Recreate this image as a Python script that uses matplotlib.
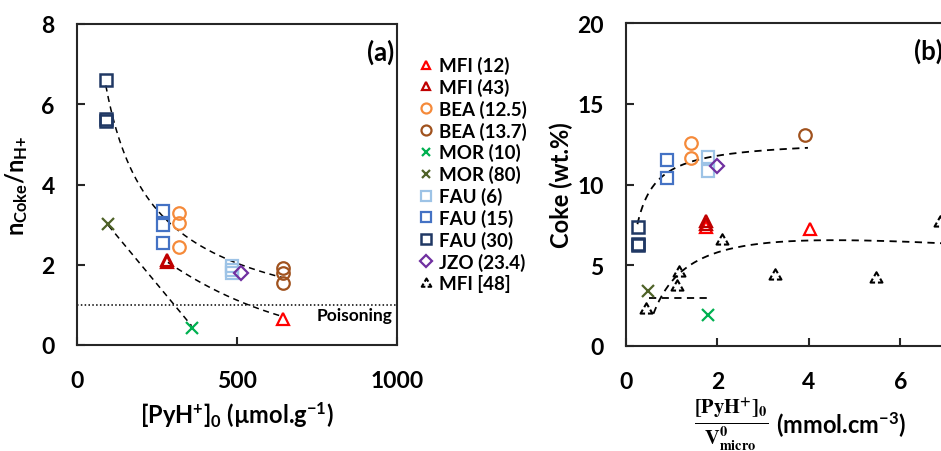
import numpy as np
import matplotlib
matplotlib.use("Agg")
import matplotlib.pyplot as plt
from matplotlib.lines import Line2D
from matplotlib.path import Path

plt.rcParams['font.family'] = ['Lato', 'DejaVu Sans']
plt.rcParams['font.weight'] = 'bold'
plt.rcParams['mathtext.fontset'] = 'custom'
plt.rcParams['mathtext.rm'] = 'Lato:bold'
plt.rcParams['mathtext.it'] = 'Lato:bold'
plt.rcParams['mathtext.bf'] = 'Lato:bold'

# ---------------- data: panel (a) -----------------
a_mfi12_x = [643]; a_mfi12_y = [0.65]
a_mfi43_x = [281, 281]; a_mfi43_y = [2.07, 2.13]
a_bea125_x = [318, 318, 318]; a_bea125_y = [3.30, 3.04, 2.43]
a_bea137_x = [643, 643, 643]; a_bea137_y = [1.93, 1.80, 1.55]
a_mor10_x = [360]; a_mor10_y = [0.42]
a_mor80_x = [96]; a_mor80_y = [3.02]
a_fau6_x = [483, 483, 483]; a_fau6_y = [1.97, 1.88, 1.80]
a_fau15_x = [270, 270, 270]; a_fau15_y = [3.33, 3.00, 2.55]
a_fau30_x = [90, 90, 90]; a_fau30_y = [6.60, 5.62, 5.58]
a_jzo_x = [513]; a_jzo_y = [1.79]

# trend-line anchor points (panel a)
a_trend1_x = [90, 270, 483, 640]; a_trend1_y = [6.45, 3.25, 2.02, 1.72]
a_trend2_x = [284, 457, 634]; a_trend2_y = [2.06, 1.27, 0.73]
a_trend3_x = [98, 358]; a_trend3_y = [2.98, 0.48]
poison_level = 1.0

# ---------------- data: panel (b) -----------------
b_mfi12_x = [1.75, 4.02]; b_mfi12_y = [7.38, 7.27]
b_mfi43_x = [1.75, 1.75]; b_mfi43_y = [7.72, 7.55]
b_bea125_x = [1.43, 1.43]; b_bea125_y = [12.57, 11.62]
b_bea137_x = [3.91]; b_bea137_y = [13.08]
b_mor10_x = [1.80]; b_mor10_y = [1.92]
b_mor80_x = [0.49]; b_mor80_y = [3.42]
b_fau6_x = [1.80, 1.80]; b_fau6_y = [11.70, 10.82]
b_fau15_x = [0.89, 0.89]; b_fau15_y = [11.54, 10.38]
b_fau30_x = [0.26, 0.26, 0.26]; b_fau30_y = [7.39, 6.32, 6.28]
b_jzo_x = [1.98]; b_jzo_y = [11.16]
b_mfi48_x = [0.44, 1.11, 1.16, 2.11, 3.25, 5.47, 6.86]
b_mfi48_y = [2.29, 3.73, 4.60, 6.58, 4.40, 4.19, 7.66]

b_trend1_x = [0.25, 0.81, 1.80, 3.98]; b_trend1_y = [7.55, 10.44, 11.85, 12.20]
b_trend2_x = [0.6, 1.1, 2.05, 4.02, 6.95]; b_trend2_y = [2.05, 4.15, 6.00, 6.48, 6.36]
b_hline_x = [0.5, 1.85]; b_hline_y = 3.0

labels = ['MFI (12)', 'MFI (43)', 'BEA (12.5)', 'BEA (13.7)', 'MOR (10)',
          'MOR (80)', 'FAU (6)', 'FAU (15)', 'FAU (30)', 'JZO (23.4)', 'MFI [48]']

# ---------------- styles -----------------
c_mfi12 = '#FF0000'; c_mfi43 = '#C00000'
c_bea125 = '#F58A3A'; c_bea137 = '#A0521E'
c_mor10 = '#00B050'; c_mor80 = '#4F6228'
c_fau6 = '#9DC3E6'; c_fau15 = '#4472C4'; c_fau30 = '#203864'
c_jzo = '#7030A0'

# dashed-outline triangle marker
tri = np.array([[0, 1.0], [-0.95, -0.65], [0.95, -0.65]])
verts, codes = [], []
for i in range(3):
    p = tri[i]; prev = tri[i - 1]; nxt = tri[(i + 1) % 3]
    verts += [p + 0.38 * (prev - p), p, p + 0.38 * (nxt - p)]
    codes += [Path.MOVETO, Path.LINETO, Path.LINETO]
dash_tri = Path(verts, codes)

series_style = [
    dict(marker='^', color=c_mfi12, ms=8, mew=1.6),
    dict(marker='^', color=c_mfi43, ms=8, mew=1.6),
    dict(marker='o', color=c_bea125, ms=9, mew=1.6),
    dict(marker='o', color=c_bea137, ms=9, mew=1.6),
    dict(marker='x', color=c_mor10, ms=8, mew=1.6),
    dict(marker='x', color=c_mor80, ms=8, mew=1.6),
    dict(marker='s', color=c_fau6, ms=8.5, mew=1.6),
    dict(marker='s', color=c_fau15, ms=8.5, mew=1.6),
    dict(marker='s', color=c_fau30, ms=8.5, mew=1.8),
    dict(marker='D', color=c_jzo, ms=7.5, mew=1.6),
    dict(marker=dash_tri, color='black', ms=9, mew=1.5),
]

def plot_series(ax, x, y, st):
    ax.plot(x, y, linestyle='none', marker=st['marker'], markersize=st['ms'],
            markeredgewidth=st['mew'], markeredgecolor=st['color'],
            markerfacecolor='none', zorder=3)

fig = plt.figure(figsize=(9.41, 4.52), dpi=100)
axa = fig.add_axes([77 / 941, 106 / 452, 320 / 941, 321 / 452])
axb = fig.add_axes([626 / 941, 105 / 452, 320 / 941, 323 / 452])

for ax in (axa, axb):
    for s in ax.spines.values():
        s.set_linewidth(1.5)
        s.set_color('#262626')
    ax.tick_params(direction='in', length=6, width=1.5, color='#262626',
                   labelsize=16.5, pad=16)
    ax.tick_params(axis='x', pad=18)

# ---------------- panel (a) -----------------
axa.set_xlim(0, 1000); axa.set_ylim(0, 8)
axa.set_xticks([0, 500, 1000]); axa.set_yticks([0, 2, 4, 6, 8])

xs = np.linspace(min(a_trend1_x), max(a_trend1_x), 200)
cf = np.polyfit(np.log(a_trend1_x), np.log(a_trend1_y), 2)
axa.plot(xs, np.exp(np.polyval(cf, np.log(xs))), 'k--', lw=1.1, dashes=(4, 3), zorder=2)
xs = np.linspace(min(a_trend2_x), max(a_trend2_x), 200)
cf = np.polyfit(a_trend2_x, np.log(a_trend2_y), 2)
axa.plot(xs, np.exp(np.polyval(cf, xs)), 'k--', lw=1.1, dashes=(4, 3), zorder=2)
axa.plot(a_trend3_x, a_trend3_y, 'k--', lw=1.1, dashes=(4, 3), zorder=2)
axa.axhline(poison_level, color='black', lw=1.1, linestyle=(0, (1, 1.5)), zorder=2)
axa.text(0.985, 0.093, 'Poisoning', transform=axa.transAxes, ha='right', va='center',
         fontsize=12.5, fontweight='bold')

a_data = [(a_mfi12_x, a_mfi12_y), (a_mfi43_x, a_mfi43_y), (a_bea125_x, a_bea125_y),
          (a_bea137_x, a_bea137_y), (a_mor10_x, a_mor10_y), (a_mor80_x, a_mor80_y),
          (a_fau6_x, a_fau6_y), (a_fau15_x, a_fau15_y), (a_fau30_x, a_fau30_y),
          (a_jzo_x, a_jzo_y)]
for (x, y), st in zip(a_data, series_style):
    plot_series(axa, x, y, st)

axa.text(0.99, 0.955, '(a)', transform=axa.transAxes, ha='right', va='top',
         fontsize=18.5, fontweight='bold')
axa.set_ylabel(r'$\mathregular{n_{Coke}/n_{H{+}}}$', fontsize=17, fontweight='bold', labelpad=8)
axa.set_xlabel(r'$\mathregular{[PyH^{+}]_{0}}$ (µmol.g$\mathregular{^{-1}}$)', fontsize=17,
               fontweight='bold', labelpad=6)

# ---------------- panel (b) -----------------
axb.set_xlim(0, 7); axb.set_ylim(0, 20)
axb.set_xticks([0, 2, 4, 6]); axb.set_yticks([0, 5, 10, 15, 20])

xs = np.linspace(min(b_trend1_x), max(b_trend1_x), 200)
cf = np.polyfit(1.0 / np.array(b_trend1_x), 1.0 / np.array(b_trend1_y), 1)
axb.plot(xs, 1.0 / np.polyval(cf, 1.0 / xs), 'k--', lw=1.3, dashes=(4, 3), zorder=2)
xs = np.linspace(min(b_trend2_x), max(b_trend2_x), 200)
cf = np.polyfit(np.log(b_trend2_x), b_trend2_y, 2)
axb.plot(xs, np.polyval(cf, np.log(xs)), 'k--', lw=1.3, dashes=(4, 3), zorder=2)
axb.plot(b_hline_x, [b_hline_y, b_hline_y], 'k--', lw=1.3, dashes=(4, 3), zorder=2)

b_data = [(b_mfi12_x, b_mfi12_y), (b_mfi43_x, b_mfi43_y), (b_bea125_x, b_bea125_y),
          (b_bea137_x, b_bea137_y), (b_mor10_x, b_mor10_y), (b_mor80_x, b_mor80_y),
          (b_fau6_x, b_fau6_y), (b_fau15_x, b_fau15_y), (b_fau30_x, b_fau30_y),
          (b_jzo_x, b_jzo_y), (b_mfi48_x, b_mfi48_y)]
for (x, y), st in zip(b_data, series_style):
    plot_series(axb, x, y, st)

axb.text(0.99, 0.955, '(b)', transform=axb.transAxes, ha='right', va='top',
         fontsize=18.5, fontweight='bold')
axb.set_ylabel('Coke (wt.%)', fontsize=17, fontweight='bold', labelpad=3)

fig.text(731 / 941, 1 - 424 / 452,
         r'$\frac{\mathbf{[PyH^{+}]_{0}}}{\mathbf{V^{0}_{micro}}}$',
         math_fontfamily='stix', fontsize=21, ha='center', va='center')
fig.text(776 / 941, 1 - 425 / 452, r'(mmol.cm$\mathregular{^{-3}}$)', fontsize=17,
         fontweight='bold', ha='left', va='center')

# ---------------- legend -----------------
handles = [Line2D([], [], linestyle='none', marker=st['marker'], markersize=st['ms'] * 0.8,
                  markeredgewidth=st['mew'], markeredgecolor=st['color'],
                  markerfacecolor='none') for st in series_style]
fig.legend(handles, labels, loc='upper left', bbox_to_anchor=(419 / 941, 1 - 57 / 452),
           frameon=False, handlelength=0.7, handletextpad=0.35, labelspacing=0.2,
           borderaxespad=0, borderpad=0, prop=dict(size=13.5, weight='bold'))

fig.savefig('out.png', dpi=100)
